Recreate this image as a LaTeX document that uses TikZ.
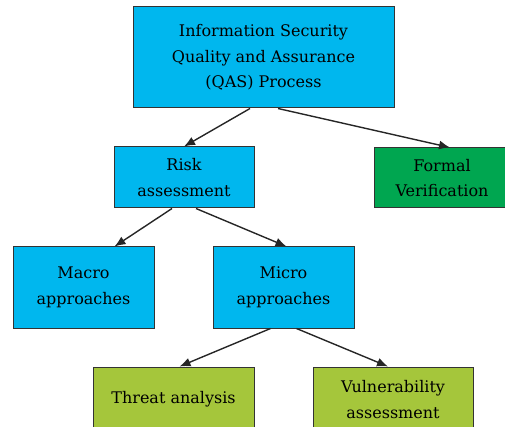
\documentclass[tikz,border=0pt]{standalone}
\usepackage{fontspec}
\setmainfont{DejaVu Serif}
\usepackage{tikz}
\usetikzlibrary{arrows.meta,positioning}

\definecolor{qasblue}{RGB}{0,183,238}
\definecolor{fvgreen}{RGB}{0,166,80}
\definecolor{leafgreen}{RGB}{165,198,59}

\begin{document}
\begin{tikzpicture}[
    x=1pt, y=-1pt,
    >={Latex[length=11pt,width=9pt]},
    box/.style={draw=black!80, line width=1pt, rectangle, align=center, inner sep=2pt,
        font=\fontsize{16}{25.5}\selectfont},
    link/.style={->, line width=1.4pt, black!85}
]
\clip (0,0) rectangle (505,427);
\node[box, fill=qasblue, minimum width=261pt, minimum height=101pt] (qas) at (263.5,57.5)
    {Information Security\\Quality and Assurance\\(QAS) Process};
\node[box, fill=qasblue, minimum width=140pt, minimum height=61pt] (risk) at (184,177.5)
    {Risk\\assessment};
\node[box, fill=fvgreen, minimum width=136pt, minimum height=60pt] (formal) at (442,178)
    {Formal\\Verification};
\node[box, fill=qasblue, minimum width=141pt, minimum height=81pt] (macro) at (83.5,287.5)
    {Macro\\approaches};
\node[box, fill=qasblue, minimum width=141pt, minimum height=81pt] (micro) at (283.5,287.5)
    {Micro\\approaches};
\node[box, fill=leafgreen, minimum width=161pt, minimum height=65pt] (threat) at (173.5,399.5)
    {Threat analysis};
\node[box, fill=leafgreen, minimum width=160pt, minimum height=65pt] (vuln) at (393,399.5)
    {Vulnerability\\assessment};

\draw[link] ([xshift=-13.5pt]qas.south) -- (risk.north);
\draw[link] ([xshift=14.5pt]qas.south) -- ([xshift=8pt]formal.north);
\draw[link] ([xshift=-12pt]risk.south) -- ([xshift=31pt]macro.north);
\draw[link] ([xshift=12pt]risk.south) -- ([xshift=3pt]micro.north);
\draw[link] ([xshift=-13pt]micro.south) -- ([xshift=6pt]threat.north);
\draw[link] ([xshift=13pt]micro.south) -- ([xshift=-5pt]vuln.north);
\end{tikzpicture}
\end{document}
